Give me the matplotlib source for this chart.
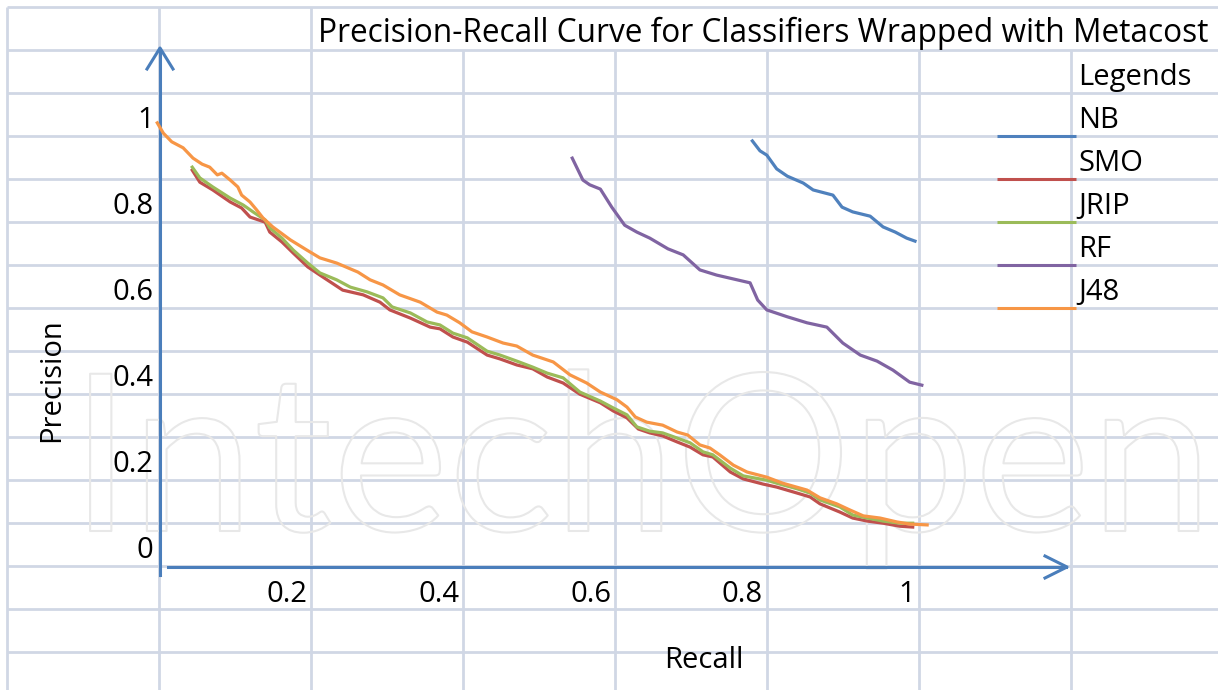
import matplotlib
matplotlib.use("Agg")
import matplotlib.pyplot as plt
import matplotlib.patheffects as pe

# precision / recall points
nb_recall = [0.786, 0.796, 0.805, 0.818, 0.832, 0.853, 0.866, 0.892, 0.904, 0.918,
             0.941, 0.958, 0.974, 0.989, 1.0]
nb_precision = [0.949, 0.926, 0.916, 0.884, 0.867, 0.851, 0.835, 0.823, 0.795, 0.784,
                0.774, 0.749, 0.737, 0.723, 0.716]

rf_recall = [0.549, 0.563, 0.572, 0.586, 0.601, 0.618, 0.634, 0.651, 0.675, 0.695,
             0.717, 0.739, 0.761, 0.783, 0.793, 0.805, 0.832, 0.858, 0.884, 0.905,
             0.928, 0.950, 0.971, 0.993, 1.009]
rf_precision = [0.909, 0.858, 0.847, 0.837, 0.795, 0.753, 0.737, 0.723, 0.698, 0.684,
                0.649, 0.637, 0.628, 0.619, 0.579, 0.556, 0.540, 0.526, 0.516, 0.479,
                0.451, 0.437, 0.416, 0.388, 0.381]

j48_recall = [0.003, 0.011, 0.022, 0.037, 0.050, 0.062, 0.072, 0.082, 0.088, 0.099,
              0.109, 0.114, 0.125, 0.134, 0.142, 0.155, 0.178, 0.200, 0.217, 0.239,
              0.267, 0.283, 0.300, 0.322, 0.349, 0.371, 0.384, 0.401, 0.417, 0.437,
              0.458, 0.476, 0.497, 0.524, 0.546, 0.568, 0.586, 0.608, 0.621, 0.632,
              0.647, 0.668, 0.687, 0.701, 0.717, 0.730, 0.743, 0.761, 0.779, 0.805,
              0.826, 0.858, 0.875, 0.897, 0.914, 0.932, 0.954, 0.976, 0.993, 1.016]
j48_precision = [0.991, 0.967, 0.947, 0.933, 0.909, 0.895, 0.888, 0.870, 0.874, 0.858,
                 0.842, 0.823, 0.807, 0.788, 0.770, 0.749, 0.719, 0.695, 0.677, 0.665,
                 0.644, 0.626, 0.614, 0.591, 0.574, 0.551, 0.544, 0.526, 0.505, 0.493,
                 0.479, 0.472, 0.451, 0.435, 0.405, 0.386, 0.365, 0.347, 0.330, 0.307,
                 0.295, 0.288, 0.272, 0.265, 0.242, 0.235, 0.219, 0.195, 0.179, 0.167,
                 0.153, 0.137, 0.119, 0.105, 0.091, 0.077, 0.072, 0.063, 0.058, 0.056]

jrip_recall = [0.049, 0.059, 0.076, 0.099, 0.116, 0.129, 0.145, 0.151, 0.167, 0.182,
               0.201, 0.217, 0.239, 0.257, 0.279, 0.300, 0.312, 0.336, 0.358, 0.375,
               0.392, 0.411, 0.437, 0.454, 0.476, 0.497, 0.516, 0.537, 0.559, 0.586,
               0.603, 0.621, 0.634, 0.651, 0.668, 0.687, 0.704, 0.721, 0.734, 0.757,
               0.774, 0.805, 0.818, 0.845, 0.862, 0.875, 0.901, 0.918, 0.937, 0.958,
               0.980, 0.997]
jrip_precision = [0.888, 0.863, 0.842, 0.816, 0.800, 0.784, 0.765, 0.747, 0.723, 0.695,
                  0.665, 0.642, 0.626, 0.609, 0.598, 0.584, 0.563, 0.549, 0.528, 0.521,
                  0.502, 0.491, 0.460, 0.451, 0.437, 0.423, 0.409, 0.398, 0.365, 0.344,
                  0.328, 0.312, 0.284, 0.274, 0.270, 0.258, 0.247, 0.226, 0.219, 0.188,
                  0.170, 0.160, 0.153, 0.140, 0.130, 0.114, 0.098, 0.079, 0.072, 0.065,
                  0.060, 0.060]

smo_recall = [0.049, 0.059, 0.076, 0.099, 0.114, 0.125, 0.145, 0.151, 0.167, 0.182,
              0.201, 0.217, 0.247, 0.274, 0.296, 0.309, 0.336, 0.362, 0.375, 0.392,
              0.411, 0.437, 0.454, 0.476, 0.497, 0.516, 0.537, 0.559, 0.586, 0.603,
              0.621, 0.636, 0.651, 0.668, 0.687, 0.704, 0.721, 0.734, 0.757, 0.774,
              0.800, 0.818, 0.845, 0.862, 0.875, 0.901, 0.918, 0.937, 0.958, 0.980,
              0.997]
smo_precision = [0.881, 0.853, 0.835, 0.807, 0.793, 0.772, 0.760, 0.737, 0.714, 0.688,
                 0.656, 0.637, 0.602, 0.591, 0.574, 0.556, 0.537, 0.516, 0.512, 0.493,
                 0.481, 0.451, 0.442, 0.428, 0.419, 0.400, 0.386, 0.360, 0.340, 0.321,
                 0.305, 0.279, 0.270, 0.263, 0.249, 0.237, 0.219, 0.214, 0.179, 0.163,
                 0.151, 0.144, 0.130, 0.121, 0.105, 0.086, 0.072, 0.065, 0.060, 0.053,
                 0.051]

series_names = ['NB', 'SMO', 'JRIP', 'RF', 'J48']
series_colors = ['#4F81BD', '#C0504D', '#9BBB59', '#8064A2', '#F79646']
series_data = [(nb_recall, nb_precision), (smo_recall, smo_precision),
               (jrip_recall, jrip_precision), (rf_recall, rf_precision),
               (j48_recall, j48_precision)]

y_ticks = [1, 0.8, 0.6, 0.4, 0.2, 0]
y_tick_labels = ['1', '0.8', '0.6', '0.4', '0.2', '0']
x_ticks = [0.2, 0.4, 0.6, 0.8, 1]
x_tick_labels = ['0.2', '0.4', '0.6', '0.8', '1']

title = 'Precision-Recall Curve for Classifiers Wrapped with Metacost'

plt.rcParams['font.family'] = ['Open Sans', 'DejaVu Sans']
W, H = 1218, 690
FS = 21
grid_c = '#D0D7E5'
axis_c = '#4A7EBB'

fig = plt.figure(figsize=(W / 100, H / 100), dpi=100)

# spreadsheet-like backdrop in pixel units
bg = fig.add_axes([0, 0, 1, 1])
bg.set_xlim(0, W)
bg.set_ylim(H, 0)
bg.axis('off')
for k in range(8):
    x = 7 + 152 * k
    top = 7 if x < 400 else 50
    bg.plot([x, x], [top, H], color=grid_c, lw=2, solid_capstyle='butt', zorder=1)
for k in range(16):
    y = 7 + 43 * k
    bg.plot([7, W], [y, y], color=grid_c, lw=2, solid_capstyle='butt', zorder=1)

# faint watermark
bg.text(70, 531, 'IntechOpen', fontsize=158, family='Lato', color='none',
        ha='left', va='baseline', zorder=2,
        path_effects=[pe.Stroke(linewidth=1.5, foreground='#E8E8E8')])

# hand-drawn axis arrows
bg.plot([160, 160], [575, 49], color=axis_c, lw=2.2, zorder=3)
bg.plot([147, 160, 173], [69, 48, 69], color=axis_c, lw=2.2, zorder=3)
bg.plot([168, 1066], [567, 567], color=axis_c, lw=2.2, zorder=3)
bg.plot([1045, 1067, 1045], [556, 567, 578], color=axis_c, lw=2.2, zorder=3)

bg.text(318, 42, title, fontsize=22.8, ha='left', va='baseline')
bg.text(1078, 85, 'Legends', fontsize=FS, ha='left', va='baseline')
for i, (name, color) in enumerate(zip(series_names, series_colors)):
    ly = 136 + 43 * i
    bg.plot([997, 1076], [ly, ly], color=color, lw=2.2, solid_capstyle='butt', zorder=3)
    bg.text(1078, 128 + 43 * i, name, fontsize=FS, ha='left', va='baseline')

bg.text(664, 668, 'Recall', fontsize=FS, ha='left', va='baseline')
bg.text(52, 380, 'Precision', fontsize=FS, rotation=90, ha='center', va='center')

# data axes laid over the sheet: recall 0 at x=155 px, precision 0 at y=549 px
ax = fig.add_axes([0, 0, 1, 1])
ax.set_xlim(-155 / 760, (W - 155) / 760)
ax.set_ylim((549 - H) / 430, 549 / 430)
ax.axis('off')
ax.patch.set_alpha(0)

for (rec, prec), color, name in zip(series_data, series_colors, series_names):
    ax.plot(rec, prec, color=color, lw=2.3, solid_joinstyle='round', label=name, zorder=4)

for v, lab in zip(y_ticks, y_tick_labels):
    ax.text(-0.002, v - 0.021, lab, fontsize=FS, ha='right', va='baseline')
for v, lab in zip(x_ticks, x_tick_labels):
    ax.text(v, -0.123, lab, fontsize=FS, ha='right', va='baseline')

fig.savefig('out.png', dpi=100)
